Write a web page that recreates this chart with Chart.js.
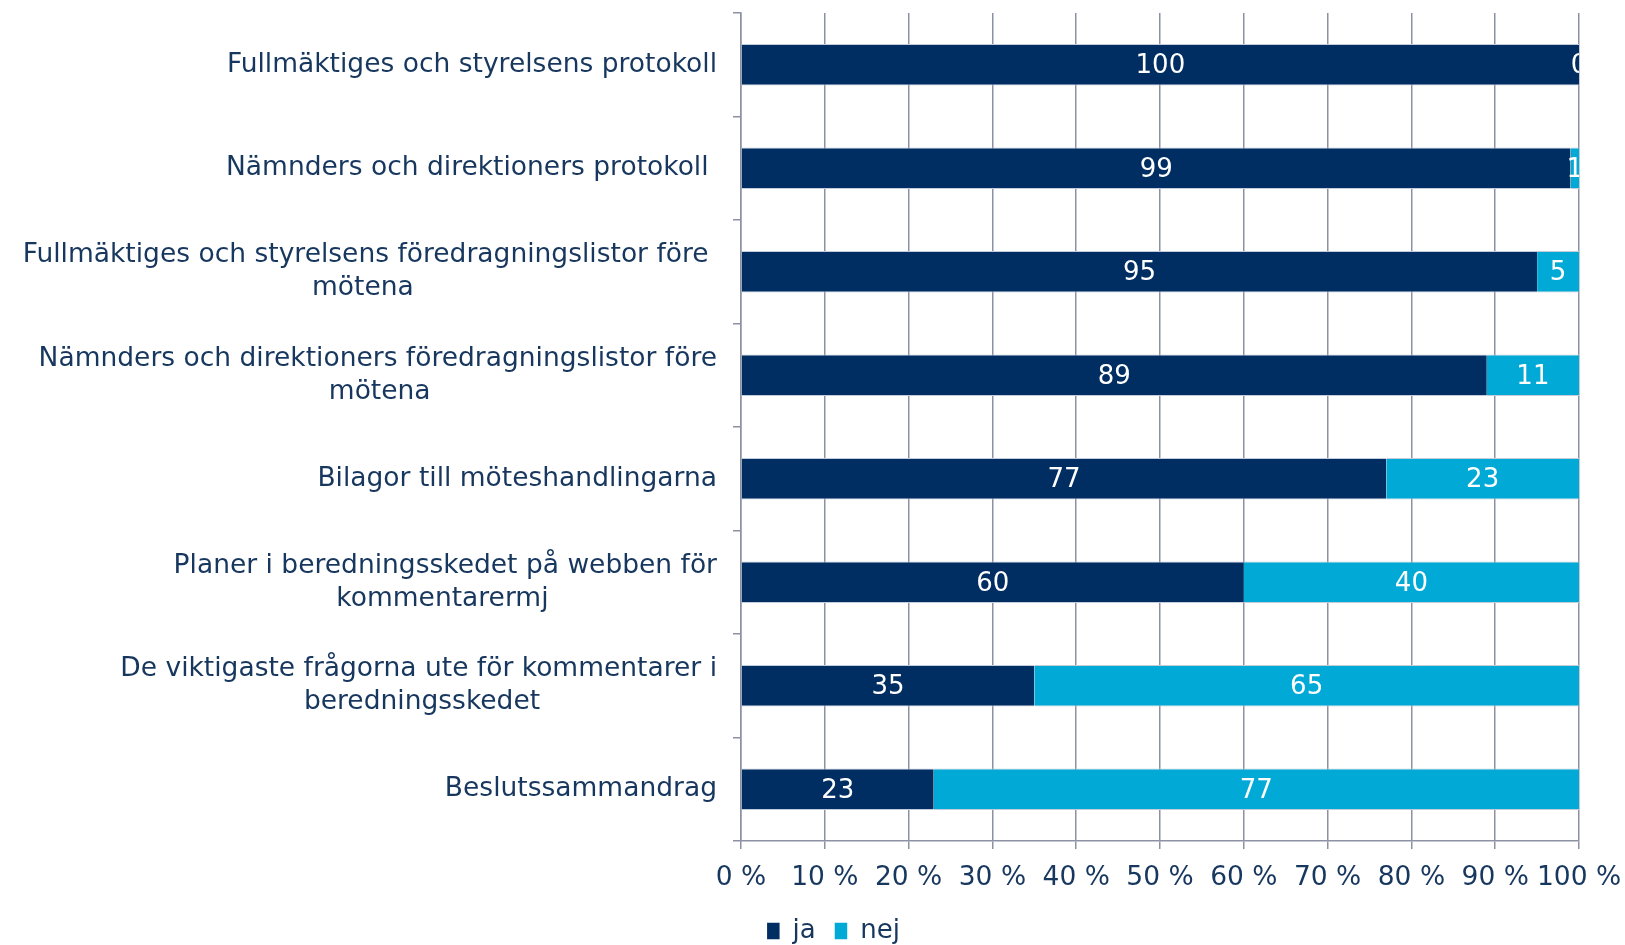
<!DOCTYPE html>
<html>
<head>
<meta charset="utf-8">
<script src="https://cdn.jsdelivr.net/npm/chart.js@4"></script>
<style>
  html, body { margin: 0; padding: 0; background: #ffffff; }
  #wrap { width: 1625px; height: 945px; }
</style>
</head>
<body>
<div id="wrap"><canvas id="c" width="1625" height="945"></canvas></div>
<script>
// ---- data ----
const categories = [
  ['Fullmäktiges och styrelsens protokoll'],
  ['Nämnders och direktioners protokoll '],
  ['Fullmäktiges och styrelsens föredragningslistor före ', 'mötena'],
  ['Nämnders och direktioners föredragningslistor före', 'mötena'],
  ['Bilagor till möteshandlingarna'],
  ['Planer i beredningsskedet på webben för', 'kommentarermj'],
  ['De viktigaste frågorna ute för kommentarer i', 'beredningsskedet'],
  ['Beslutssammandrag']
];
const seriesNames = ['ja', 'nej'];
const jaValues = [100, 99, 95, 89, 77, 60, 35, 23];
const nejValues = [0, 1, 5, 11, 23, 40, 65, 77];
const xTickValues = [0, 10, 20, 30, 40, 50, 60, 70, 80, 90, 100];

// ---- style ----
const TEXT = '#17375E';
const NAVY = '#002E62';
const CYAN = '#00A9D6';
const GRID = '#8C91A3';
const FONT = '"DejaVu Sans", Verdana, sans-serif';
const LABEL_SIZE = 26.5;

// center continuation lines under first line (right-aligned block)
const mctx = document.createElement('canvas').getContext('2d');
mctx.font = LABEL_SIZE + 'px ' + FONT;
function centeredLines(lines) {
  if (lines.length < 2) return lines.length === 1 ? lines[0] : lines;
  const first = lines[0];
  const trimmed = first.replace(/\s+$/, '');
  const trail = mctx.measureText(first).width - mctx.measureText(trimmed).width;
  const w1 = mctx.measureText(trimmed).width;
  const nb = mctx.measureText('\u00A0').width;
  return lines.map((ln, i) => {
    if (i === 0) return ln;
    const w2 = mctx.measureText(ln).width;
    const pad = trail + (w1 - w2) / 2;
    return ln + '\u00A0'.repeat(Math.max(0, Math.round(pad / nb)));
  });
}

const valueLabels = {
  id: 'valueLabels',
  afterDatasetsDraw(chart) {
    const ctx = chart.ctx;
    const a = chart.chartArea;
    ctx.save();
    ctx.beginPath();
    ctx.rect(a.left, a.top, a.right - a.left, a.bottom - a.top);
    ctx.clip();
    ctx.fillStyle = '#ffffff';
    ctx.font = '26px ' + FONT;
    ctx.textAlign = 'center';
    ctx.textBaseline = 'middle';
    chart.data.datasets.forEach((ds, di) => {
      const meta = chart.getDatasetMeta(di);
      meta.data.forEach((bar, i) => {
        const cx = (bar.x + bar.base) / 2;
        ctx.fillText(String(ds.data[i]), cx, bar.y + 1.5);
      });
    });
    ctx.restore();
  }
};

const legendShift = {
  id: 'legendShift',
  afterLayout(chart) {
    const l = chart.legend;
    if (!l) return;
    l.left += 21; l.right += 21;
    l.top += 9; l.bottom += 9;
  }
};

Chart.defaults.font.family = FONT;
Chart.defaults.color = TEXT;

new Chart(document.getElementById('c'), {
  type: 'bar',
  data: {
    labels: categories,
    datasets: [
      { label: seriesNames[0], data: jaValues, backgroundColor: NAVY,
        borderColor: '#C3CCDA', borderWidth: {top: 1, bottom: 1, left: 0, right: 0}, borderSkipped: false,
        barPercentage: 0.4, categoryPercentage: 1.0 },
      { label: seriesNames[1], data: nejValues, backgroundColor: CYAN,
        borderColor: '#C3CCDA', borderWidth: {top: 1, bottom: 1, left: 0, right: 0}, borderSkipped: false,
        barPercentage: 0.4, categoryPercentage: 1.0 }
    ]
  },
  options: {
    indexAxis: 'y',
    responsive: false,
    animation: false,
    devicePixelRatio: 1,
    layout: { padding: { top: 13, right: 0, bottom: 0, left: 0 } },
    scales: {
      x: {
        stacked: true,
        min: 0, max: 100,
        afterBuildTicks(scale) { scale.ticks = xTickValues.map(v => ({ value: v })); },
        afterFit(scale) { scale.paddingRight = 46; scale.paddingLeft = 0; scale.height = 49; },
        ticks: {
          callback: v => v + ' %',
          font: { size: LABEL_SIZE },
          color: TEXT,
          padding: 13,
          maxRotation: 0,
          autoSkip: false
        },
        grid: { color: GRID, lineWidth: 1.5, tickLength: 8, drawOnChartArea: true },
        border: { display: true, color: GRID, width: 1.5 }
      },
      y: {
        stacked: true,
        afterFit(scale) { scale.width = 741; scale.paddingTop = 0; scale.paddingBottom = 0; },
        ticks: {
          callback: function (value, index) { return centeredLines(categories[index]); },
          font: { size: LABEL_SIZE, lineHeight: 1.25 },
          color: TEXT,
          padding: 16,
          autoSkip: false
        },
        grid: { color: GRID, lineWidth: 1.5, tickLength: 8, drawOnChartArea: false, offset: true },
        border: { display: true, color: GRID, width: 1.5 }
      }
    },
    plugins: {
      legend: {
        position: 'bottom',
        align: 'center',
        labels: {
          boxWidth: 12.5, boxHeight: 16.5, padding: 19,
          font: { size: 26 }, color: TEXT,
          generateLabels(chart) {
            return Chart.defaults.plugins.legend.labels.generateLabels(chart)
              .map(l => Object.assign({}, l, { lineWidth: 0, strokeStyle: 'rgba(0,0,0,0)' }));
          }
        }
      },
      tooltip: { enabled: false },
      title: { display: false }
    }
  },
  plugins: [valueLabels, legendShift]
});
</script>
</body>
</html>
